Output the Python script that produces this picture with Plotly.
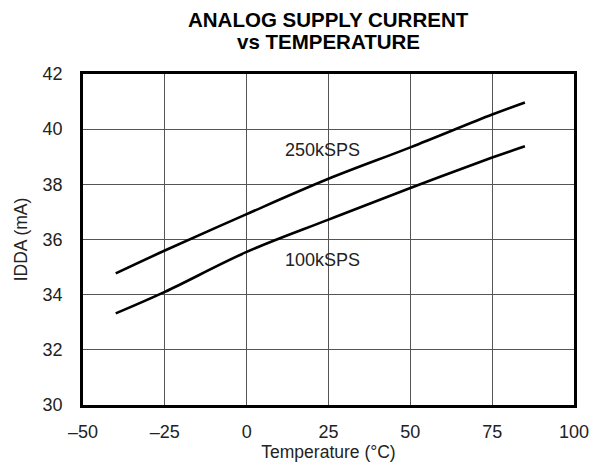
import plotly.graph_objects as go

temp = [-40, -25, 0, 25, 50, 75, 85]
idda_250k = [34.77, 35.6, 36.92, 38.20, 39.34, 40.53, 40.97]
idda_100k = [33.32, 34.10, 35.55, 36.72, 37.87, 38.97, 39.38]
xticks = [-50, -25, 0, 25, 50, 75, 100]
xticklabels = ["\u201350", "\u201325", "0", "25", "50", "75", "100"]
yticks = [30, 32, 34, 36, 38, 40, 42]

FONT = "Liberation Sans, Arial, Helvetica, sans-serif"

fig = go.Figure()
fig.add_trace(go.Scatter(x=temp, y=idda_250k, mode="lines",
                         line=dict(color="black", width=2.6, shape="spline"), showlegend=False))
fig.add_trace(go.Scatter(x=temp, y=idda_100k, mode="lines",
                         line=dict(color="black", width=2.6, shape="spline"), showlegend=False))

fig.add_annotation(x=23.1, y=39.26, text="250kSPS", showarrow=False,
                   font=dict(size=18, color="#222"))
fig.add_annotation(x=23.1, y=35.24, text="100kSPS", showarrow=False,
                   font=dict(size=18, color="#222"))

# two-line bold title
fig.add_annotation(xref="paper", yref="paper", x=0.5, y=1.1647, text="<b>ANALOG SUPPLY CURRENT</b>",
                   showarrow=False, xanchor="center", yanchor="middle",
                   font=dict(size=20.5, color="black", family=FONT))
fig.add_annotation(xref="paper", yref="paper", x=0.5, y=1.0967, text="<b>vs TEMPERATURE</b>",
                   showarrow=False, xanchor="center", yanchor="middle",
                   font=dict(size=20.5, color="black", family=FONT))

fig.update_layout(
    width=584, height=454,
    margin=dict(l=75, r=18, t=66, b=57),
    paper_bgcolor="white", plot_bgcolor="white",
    font=dict(family=FONT, size=18, color="#222"),
)
fig.update_xaxes(range=[-50, 100], tickvals=xticks, ticktext=xticklabels,
                 showgrid=True, gridcolor="#555", gridwidth=1,
                 showline=True, linecolor="black", linewidth=2.5, mirror=True,
                 ticks="", zeroline=False, ticklabelstandoff=9, automargin=False,
                 title=dict(text="Temperature (\u00b0C)", font=dict(size=17.5), standoff=0))
fig.update_yaxes(range=[30, 42], tickvals=yticks,
                 showgrid=True, gridcolor="#555", gridwidth=1,
                 showline=True, linecolor="black", linewidth=2.5, mirror=True,
                 ticks="", zeroline=False, ticklabelstandoff=14, automargin=False,
                 title=dict(text="IDDA (mA)", font=dict(size=17.5), standoff=11))

fig.write_html("out.html")
